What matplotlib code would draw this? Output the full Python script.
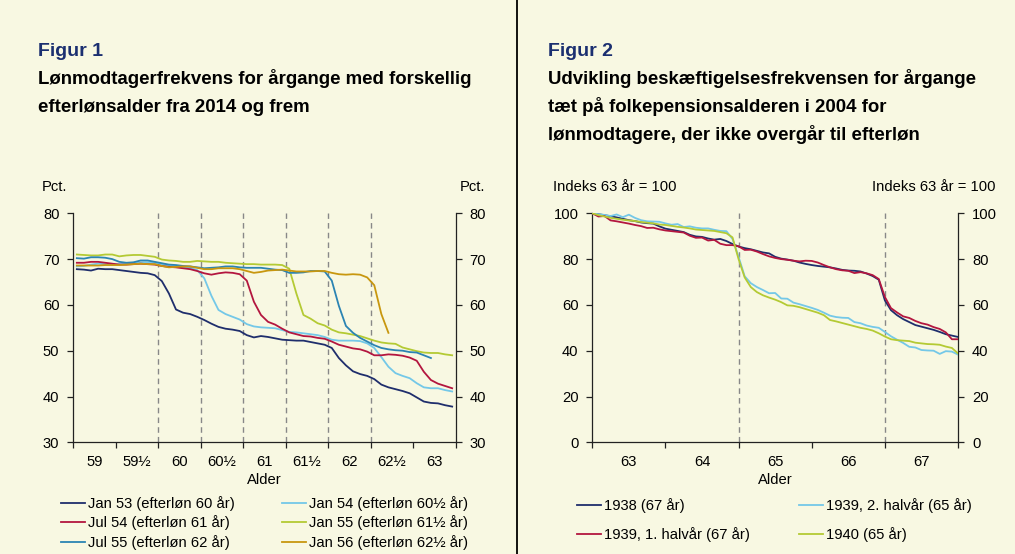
import numpy as np
import matplotlib
matplotlib.use("Agg")
import matplotlib.pyplot as plt
from matplotlib.lines import Line2D

plt.rcParams["font.family"] = ["Liberation Sans", "DejaVu Sans"]

W, H = 1015, 554
BG = "#F8F8E2"
NAVY_TITLE = "#1B2F70"
FS = 10.6

# ---- Figur 1 data: monthly values, 9 half-year age groups (59 .. 63)
age_labels_1 = ["59", "59½", "60", "60½", "61", "61½", "62", "62½", "63"]
jan53 = [67.8, 67.7, 67.5, 67.9, 67.8, 67.8, 67.6, 67.4, 67.2, 67.0, 66.9, 66.5,
         65.2, 62.5, 59.0, 58.3, 58.0, 57.4, 56.7, 55.9, 55.2, 54.8, 54.6, 54.3,
         53.4, 52.9, 53.2, 53.0, 52.7, 52.4, 52.3, 52.2, 52.2, 51.9, 51.6, 51.3,
         50.6, 48.4, 46.8, 45.5, 44.9, 44.5, 43.8, 42.6, 42.0, 41.6, 41.2, 40.7,
         39.8, 38.9, 38.6, 38.5, 38.1, 37.8]
jan54 = [68.4, 68.5, 68.8, 69.0, 68.9, 68.8, 68.9, 69.0, 69.2, 69.3, 69.3, 69.2,
         68.9, 68.6, 68.4, 68.3, 68.1, 67.6, 65.8, 62.0, 58.9, 58.0, 57.4, 56.8,
         55.8, 55.3, 55.1, 55.0, 54.9, 54.5, 54.1, 54.0, 53.8, 53.6, 53.4, 53.0,
         52.4, 52.2, 52.2, 52.2, 52.1, 51.6, 50.6, 48.6, 46.5, 45.1, 44.5, 44.0,
         42.9, 42.0, 41.8, 41.8, 41.4, 41.1]
jul54 = [69.2, 69.2, 69.4, 69.4, 69.2, 69.0, 68.8, 68.8, 68.9, 69.0, 68.9, 68.8,
         68.5, 68.3, 68.2, 68.0, 67.8, 67.4, 66.9, 66.6, 66.9, 67.1, 67.0, 66.7,
         65.3, 60.7, 57.8, 56.3, 55.7, 54.8, 54.0, 53.6, 53.2, 53.1, 52.8, 52.6,
         52.0, 51.3, 50.9, 50.5, 50.3, 49.8, 49.0, 49.0, 49.2, 49.1, 48.9, 48.5,
         47.8, 45.4, 43.6, 42.8, 42.3, 41.8]
jan55 = [71.0, 70.9, 70.8, 70.8, 71.0, 71.0, 70.6, 70.8, 70.9, 70.9, 70.7, 70.5,
         69.9, 69.7, 69.6, 69.4, 69.4, 69.6, 69.5, 69.4, 69.4, 69.2, 69.1, 69.0,
         68.9, 68.9, 68.8, 68.8, 68.8, 68.7, 67.9, 62.5, 57.8, 57.0, 56.0, 55.5,
         54.6, 54.0, 53.8, 53.5, 53.2, 52.7, 52.2, 51.8, 51.6, 51.5, 50.7, 50.3,
         49.9, 49.6, 49.5, 49.5, 49.2, 49.0]
jul55 = [70.2, 70.1, 70.4, 70.4, 70.3, 70.0, 69.4, 69.2, 69.3, 69.7, 69.7, 69.4,
         69.1, 68.8, 68.7, 68.5, 68.4, 68.2, 68.0, 68.1, 68.2, 68.4, 68.4, 68.2,
         68.1, 68.1, 68.1, 67.9, 67.7, 67.6, 67.0, 67.0, 67.1, 67.4, 67.4, 67.3,
         65.3, 59.8, 55.4, 53.9, 52.8, 52.0, 51.2, 50.6, 50.3, 50.1, 50.0, 49.7,
         49.6, 49.0, 48.4, np.nan, np.nan, np.nan]
jan56 = [68.6, 68.6, 68.6, 68.6, 68.7, 68.7, 68.7, 68.8, 68.9, 69.0, 68.9, 68.9,
         68.5, 68.2, 68.3, 68.4, 68.4, 68.1, 67.8, 67.8, 68.0, 68.0, 68.0, 67.8,
         67.4, 67.0, 67.2, 67.5, 67.6, 67.7, 67.5, 67.3, 67.3, 67.3, 67.4, 67.4,
         67.0, 66.7, 66.6, 66.7, 66.6, 66.0, 64.3, 58.0, 53.9, np.nan, np.nan,
         np.nan, np.nan, np.nan, np.nan, np.nan, np.nan, np.nan]
names_1 = ["Jan 53 (efterløn 60 år)", "Jan 54 (efterløn 60½ år)",
           "Jul 54 (efterløn 61 år)", "Jan 55 (efterløn 61½ år)",
           "Jul 55 (efterløn 62 år)", "Jan 56 (efterløn 62½ år)"]
dashed_1 = [12, 18, 24, 30, 36, 42]   # months, start of each efterløn age

# ---- Figur 2 data: monthly index (63 år = 100), ages 63 .. 67
age_labels_2 = ["63", "64", "65", "66", "67"]
y1938 = [100, 99.6, 99.2, 98.7, 98.2, 97.6, 97.0, 96.6, 96.0, 95.7, 95.5, 94.3,
         93.3, 92.8, 92.3, 91.8, 90.6, 89.9, 89.7, 89.0, 88.5, 88.8, 87.9, 86.6,
         85.5, 84.8, 84.3, 83.6, 82.9, 82.5, 81.0, 80.2, 79.8, 79.3, 78.5, 77.9,
         77.4, 77.0, 76.7, 76.4, 75.9, 75.3, 75.0, 74.9, 74.6, 73.7, 72.6, 71.0,
         62.0, 57.7, 55.5, 53.8, 52.5, 51.2, 50.5, 49.8, 49.1, 48.2, 47.2, 46.6, 46.0]
y1939_2 = [100, 99.6, 99.3, 98.8, 99.5, 98.3, 99.4, 98.0, 97.0, 96.5, 96.4, 96.3,
           95.6, 95.0, 95.3, 94.0, 94.3, 93.7, 93.4, 93.4, 92.8, 92.3, 92.2, 88.8,
           81.0, 72.5, 69.5, 67.8, 66.5, 65.1, 65.2, 62.8, 62.7, 61.0, 60.3, 59.5,
           58.7, 57.8, 56.6, 55.3, 54.7, 54.4, 54.3, 52.5, 52.0, 51.0, 50.4, 50.0,
           48.2, 46.3, 44.8, 43.4, 41.7, 41.4, 40.3, 40.1, 40.0, 38.6, 39.8, 39.6, 38.3]
y1939_1 = [100, 98.6, 98.8, 96.9, 96.5, 96.0, 95.5, 94.9, 94.4, 93.6, 93.7, 93.0,
           92.5, 92.2, 91.9, 91.6, 90.2, 89.3, 89.4, 88.1, 88.4, 86.7, 86.1, 86.1,
           85.6, 84.0, 84.1, 83.3, 82.2, 81.2, 80.5, 80.0, 79.7, 79.3, 79.0, 79.3,
           79.2, 78.5, 77.4, 76.4, 75.6, 75.1, 74.9, 73.9, 74.3, 73.8, 73.0, 71.3,
           63.5, 58.6, 56.7, 55.0, 54.3, 53.0, 52.0, 51.4, 50.3, 49.5, 48.0, 45.0, 45.0]
y1940 = [100, 99.2, 98.6, 98.0, 97.6, 97.2, 96.9, 96.6, 96.2, 95.9, 95.6, 95.1,
         94.9, 94.5, 94.1, 93.8, 93.4, 92.9, 92.7, 92.5, 92.3, 91.8, 91.3, 89.5,
         80.0, 72.0, 67.8, 65.6, 64.2, 63.2, 62.3, 61.2, 59.8, 59.6, 59.0, 58.2,
         57.4, 56.6, 55.5, 53.4, 52.8, 52.1, 51.4, 50.7, 50.0, 49.5, 48.8, 47.6,
         46.2, 45.0, 44.6, 44.4, 44.2, 43.5, 43.2, 42.9, 42.8, 42.6, 41.8, 41.2, 38.8]
names_2 = ["1938 (67 år)", "1939, 2. halvår (65 år)",
           "1939, 1. halvår (67 år)", "1940 (65 år)"]
dashed_2 = [24, 48]

c_navy = "#1F2E6C"
c_light = "#74C8E8"
c_red = "#B3163F"
c_green = "#B4CA34"
c_teal = "#2B84B3"
c_gold = "#C8970F"


def fx(px):
    return px / W


def fy(py):
    return 1 - py / H


def style_axis(ax, n_groups, months_per_group, labels, ymin, ymax, ystep):
    xmax = n_groups * months_per_group
    ax.set_xlim(0, xmax)
    ax.set_ylim(ymin, ymax)
    ax.set_facecolor("none")
    ax.spines["top"].set_visible(False)
    for s in ("left", "right", "bottom"):
        ax.spines[s].set_color("#222222")
        ax.spines[s].set_linewidth(0.9)
    ax.set_xticks(np.arange(0, xmax + 1, months_per_group))
    ax.set_xticks(np.arange(months_per_group / 2, xmax, months_per_group), minor=True)
    ax.set_xticklabels([])
    ax.set_xticklabels(labels, minor=True)
    ax.tick_params(axis="x", which="major", length=4, width=0.9, color="#222222")
    ax.tick_params(axis="x", which="minor", length=0, pad=9, labelsize=FS)
    ax.set_yticks(np.arange(ymin, ymax + 1, ystep))
    ax.tick_params(axis="y", left=True, right=True, labelleft=True, labelright=True,
                   length=4, width=0.9, color="#222222", labelsize=FS, pad=6)
    ax.set_xlabel("Alder", fontsize=FS, labelpad=3)


def row_major(ax, ncol):
    # matplotlib fills legend columns first; the reference fills rows first
    handles, labels = ax.get_legend_handles_labels()
    order = [i for c in range(ncol) for i in range(c, len(handles), ncol)]
    return [handles[i] for i in order], [labels[i] for i in order]


fig = plt.figure(figsize=(W / 100, H / 100), dpi=100, facecolor=BG)

# ---------- Figur 1
ax1 = fig.add_axes([fx(73.3), fy(442.3), fx(455.7) - fx(73.3), fy(213.3) - fy(442.3)])
style_axis(ax1, len(age_labels_1), 6, age_labels_1, 30, 80, 10)
for d in dashed_1:
    ax1.axvline(d, color="#888888", lw=1.0, ls=(0, (4, 3)), zorder=1)
m1 = np.arange(len(jan53)) + 0.5
series_1 = [jan53, jan54, jul54, jan55, jul55, jan56]
colors_1 = [c_navy, c_light, c_red, c_green, c_teal, c_gold]
for vals, col, name in zip(series_1, colors_1, names_1):
    ax1.plot(m1, vals, color=col, lw=1.3, label=name, zorder=3)
h1, l1 = row_major(ax1, 2)
ax1.legend(h1, l1, loc="upper left", bbox_to_anchor=(fx(61), fy(496)),
           bbox_transform=fig.transFigure, ncol=2, frameon=False, fontsize=FS,
           handlelength=1.65, handletextpad=0.18, columnspacing=3.2,
           labelspacing=0.3, borderpad=0, borderaxespad=0)

# ---------- Figur 2
ax2 = fig.add_axes([fx(592.3), fy(442.3), fx(958) - fx(592.3), fy(213.3) - fy(442.3)])
style_axis(ax2, len(age_labels_2), 12, age_labels_2, 0, 100, 20)
for d in dashed_2:
    ax2.axvline(d, color="#888888", lw=1.0, ls=(0, (4, 3)), zorder=1)
m2 = np.arange(len(y1938))
series_2 = [y1938, y1939_2, y1939_1, y1940]
colors_2 = [c_navy, c_light, c_red, c_green]
for vals, col, name in zip(series_2, colors_2, names_2):
    ax2.plot(m2, vals, color=col, lw=1.3, label=name, zorder=3)
h2, l2 = row_major(ax2, 2)
ax2.legend(h2, l2, loc="upper left", bbox_to_anchor=(fx(577), fy(498.5)),
           bbox_transform=fig.transFigure, ncol=2, frameon=False, fontsize=FS,
           handlelength=1.65, handletextpad=0.18, columnspacing=3.35,
           labelspacing=0.95, borderpad=0, borderaxespad=0)

# ---------- titles and unit labels
fig.text(fx(38), fy(56.5), "Figur 1", color=NAVY_TITLE, fontsize=14, fontweight="bold",
         va="baseline")
fig.text(fx(38), fy(84.3), "Lønmodtagerfrekvens for årgange med forskellig",
         fontsize=13.4, fontweight="bold", va="baseline")
fig.text(fx(38), fy(112.3), "efterlønsalder fra 2014 og frem",
         fontsize=13.4, fontweight="bold", va="baseline")

fig.text(fx(548), fy(56.5), "Figur 2", color=NAVY_TITLE, fontsize=14, fontweight="bold",
         va="baseline")
for i, line in enumerate(["Udvikling beskæftigelsesfrekvensen for årgange",
                          "tæt på folkepensionsalderen i 2004 for",
                          "lønmodtagere, der ikke overgår til efterløn"]):
    fig.text(fx(548), fy(84.3 + 28 * i), line, fontsize=13.4, fontweight="bold",
             va="baseline")

fig.text(fx(42), fy(187), "Pct.", fontsize=FS, va="center", ha="left")
fig.text(fx(485), fy(187), "Pct.", fontsize=FS, va="center", ha="right")
fig.text(fx(553), fy(187), "Indeks 63 år = 100", fontsize=FS, va="center", ha="left")
fig.text(fx(996), fy(187), "Indeks 63 år = 100", fontsize=FS, va="center", ha="right")

# divider between the two panels
fig.add_artist(Line2D([fx(517), fx(517)], [0, 1], transform=fig.transFigure,
                      color="black", lw=1.3))

fig.savefig("out.png", dpi=100, facecolor=BG)
